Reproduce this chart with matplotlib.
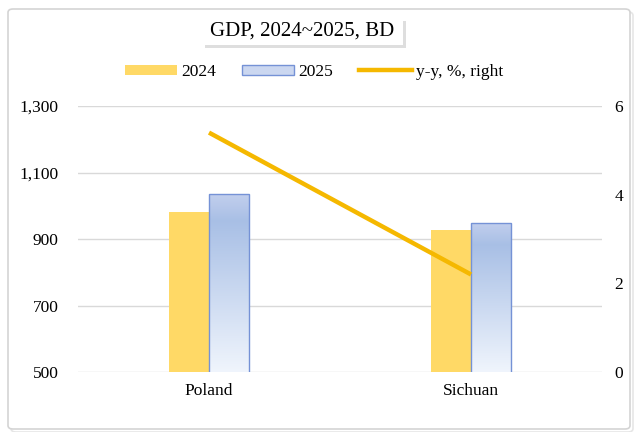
import numpy as np
import matplotlib.pyplot as plt
from matplotlib.patches import FancyBboxPatch, Rectangle
from matplotlib.lines import Line2D

plt.rcParams['font.family'] = ['Liberation Serif', 'DejaVu Serif']

# data
categories = ['Poland', 'Sichuan']
gdp_2024 = [982, 927]
gdp_2025 = [1035, 949]
yoy = [5.4, 2.2]
left_ticks = [500, 700, 900, 1100, 1300]
right_ticks = [0, 2, 4, 6]

W, H = 638, 432
fs = 12.5
fig = plt.figure(figsize=(W / 100, H / 100), dpi=100)

# outer frame with a soft shadow
for off, col in [(3, '#E6E6E6'), (0, '#D4D4D4')]:
    fig.patches.append(FancyBboxPatch(((8 + off) / W, (3 - off) / H), 622 / W, 420 / H,
                                      boxstyle='round,pad=0,rounding_size=0.008',
                                      transform=fig.transFigure, facecolor='white' if off == 0 else 'none',
                                      edgecolor=col, lw=1.2, zorder=-5 + (off == 0)))

ax = fig.add_axes([78 / W, 1 - 372 / H, 524 / W, 266 / H])
ax.set_facecolor('none')
for s in ax.spines.values():
    s.set_visible(False)
ax.set_yticks(left_ticks)
ax.set_yticklabels([f'{v:,}' for v in left_ticks], fontsize=fs)
ax.tick_params(axis='y', length=0, pad=14)
ax.set_xticks(range(len(categories)))
ax.set_xticklabels(categories, fontsize=fs)
ax.tick_params(axis='x', length=0, pad=8)
ax.grid(axis='y', color='#D9D9D9', lw=1)
ax.set_axisbelow(True)

x = np.arange(len(categories))
bw = 0.153
ax.bar(x - bw / 2, gdp_2024, bw, color='#FFD966', zorder=2)

# 2025 bars with a vertical gradient
stops = np.array([0.0, 0.15, 1.0])
cols = np.array([[0.76, 0.81, 0.93], [0.66, 0.75, 0.90], [0.94, 0.96, 0.99]])
t = np.linspace(0, 1, 256)
img = np.stack([np.interp(t, stops, cols[:, k]) for k in range(3)], axis=-1)[:, None, :]
img = np.repeat(img, 2, axis=1)
bars = ax.bar(x + bw / 2, gdp_2025, bw, color='none', edgecolor='#7592D6', lw=1, zorder=3)
for b in bars:
    x0, w, h = b.get_x(), b.get_width(), b.get_height()
    im = ax.imshow(img, extent=[x0, x0 + w, 500, h], aspect='auto', origin='upper', zorder=2.5)
    im.set_clip_path(Rectangle((x0, 0), w, h, transform=ax.transData))
ax.set_xlim(-0.5, 1.5)
ax.set_ylim(500, 1300)

ax2 = ax.twinx()
ax2.set_ylim(0, 6)
ax2.set_yticks(right_ticks)
ax2.set_yticklabels([str(v) for v in right_ticks], fontsize=fs)
ax2.tick_params(axis='y', length=0, pad=9)
for s in ax2.spines.values():
    s.set_visible(False)
ax2.plot(x, yoy, color='#F5B800', lw=3.2, solid_capstyle='butt', zorder=4)

# title box with shadow
fig.patches.append(Rectangle((205 / W, 1 - 48 / H), 201 / W, 27 / H, transform=fig.transFigure,
                             facecolor='#C8C8C8', edgecolor='none', alpha=0.6))
fig.patches.append(Rectangle((202 / W, 1 - 45 / H), 201 / W, 27 / H, transform=fig.transFigure,
                             facecolor='white', edgecolor='none'))
fig.text(302.5 / W, 1 - 31.5 / H, 'GDP, 2024~2025, BD', ha='center', va='center', fontsize=15)

handles = [Rectangle((0, 0), 1, 1, facecolor='#FFD966', edgecolor='none'),
           Rectangle((0, 0), 1, 1, facecolor='#CBD7F0', edgecolor='#7592D6', lw=1),
           Line2D([], [], color='#F5B800', lw=3.2)]
fig.legend(handles, ['2024', '2025', 'y-y, %, right'], loc='center', bbox_to_anchor=(314 / W, 1 - 72 / H),
           ncol=3, frameon=False, fontsize=fs, handlelength=3.0, handleheight=0.5,
           columnspacing=1.5, handletextpad=0.25)

fig.savefig('out.png', dpi=100)
